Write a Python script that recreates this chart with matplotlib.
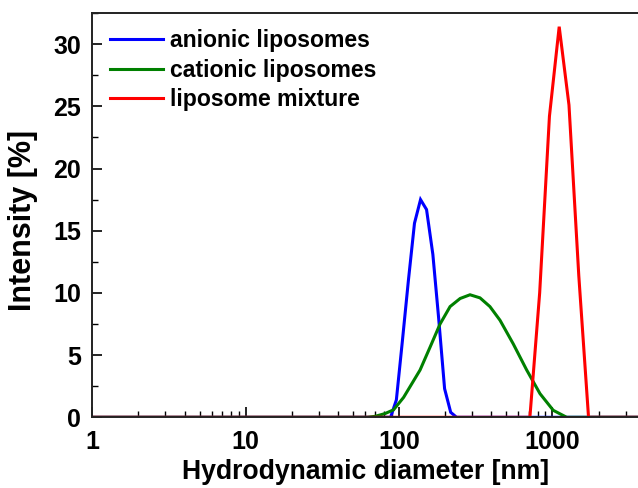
import matplotlib
matplotlib.use("Agg")
import matplotlib.pyplot as plt
from matplotlib.ticker import FixedLocator, MultipleLocator, NullFormatter

plt.rcParams['font.family'] = ['Liberation Sans', 'DejaVu Sans']
plt.rcParams['font.weight'] = 'bold'

# Anionic liposomes
anionic_d = [0.4, 88, 96, 105, 115, 126, 138, 151, 166, 181, 198, 217, 237, 10000]
anionic_i = [0, 0, 1.4, 6.1, 11.0, 15.6, 17.5, 16.7, 13.1, 8.0, 2.3, 0.4, 0, 0]

# Cationic liposomes
cationic_d = [0.4, 62, 70, 81, 92, 107, 137, 160, 185, 215, 250, 290, 337, 391,
              455, 555, 679, 829, 1012, 1238, 10000]
cationic_i = [0, 0, 0.08, 0.3, 0.6, 1.6, 3.8, 5.7, 7.5, 8.9, 9.55, 9.85, 9.6, 8.9,
              7.8, 5.9, 3.8, 1.9, 0.56, 0, 0]

# Liposome mixture
mixture_d = [0.4, 712.4, 825, 955.4, 1106, 1281, 1484, 1718, 10000]
mixture_i = [0, 0, 10.0, 24.2, 31.4, 25.1, 11.4, 0, 0]

labels = ["anionic liposomes", "cationic liposomes", "liposome mixture"]
colors = ["#0000ff", "#008000", "#ff0000"]

W, H = 638, 488
L, B, T = 92.3, 417.3, 13
fig = plt.figure(figsize=(W / 100, H / 100), dpi=100)
ax = fig.add_axes([L / W, (H - B) / H, 1 - L / W, (B - T) / H])
aw, ah = W - L, B - T

for d, v, lab, c in zip([anionic_d, cationic_d, mixture_d],
                        [anionic_i, cationic_i, mixture_i], labels, colors):
    ax.plot(d, v, color=c, lw=2.2, label=lab, solid_joinstyle='miter')

ax.set_xscale('log')
ax.set_xlim(1, 3610)
ax.set_ylim(0, 32.5)

ax.set_xticks([1, 10, 100, 1000])
ax.set_xticklabels(["1", "10", "100", "1000"])
minors = [m * 10 ** e for e in range(0, 4) for m in range(2, 10)]
ax.xaxis.set_minor_locator(FixedLocator(minors))
ax.xaxis.set_minor_formatter(NullFormatter())
ax.yaxis.set_major_locator(MultipleLocator(5))
ax.yaxis.set_minor_locator(MultipleLocator(2.5))

ax.tick_params(axis='both', which='major', direction='in', length=7, width=1.2,
               labelsize=18, pad=8, colors='black')
ax.tick_params(axis='x', which='major', pad=9)
ax.tick_params(axis='both', which='minor', direction='in', length=4, width=1.0)
ax.tick_params(axis='x', which='both', top=False)
ax.tick_params(axis='y', which='both', right=False)

for lab in ax.get_xticklabels() + ax.get_yticklabels():
    lab.set_fontweight('bold')

ax.spines['right'].set_visible(False)
for s in ['left', 'top', 'bottom']:
    ax.spines[s].set_linewidth(1.4)
    ax.spines[s].set_color('#222222')

ax.set_xlabel("Hydrodynamic diameter [nm]", fontsize=19.2, fontweight='bold')
ax.xaxis.set_label_coords(0.5, -(459 - B) / ah)
ax.set_ylabel("Intensity [%]", fontsize=22, fontweight='bold')
ax.yaxis.set_label_coords(-(L - 38) / aw, (B - 220.5) / ah)

leg = ax.legend(loc='upper left', frameon=False, fontsize=16.6, handlelength=2.3,
                handletextpad=0.3, labelspacing=0.28, borderpad=0, borderaxespad=0,
                bbox_to_anchor=((110 - L) / aw, 1 - (29.5 - T) / ah))
for t in leg.get_texts():
    t.set_fontweight('bold')

fig.savefig("out.png", dpi=100)
